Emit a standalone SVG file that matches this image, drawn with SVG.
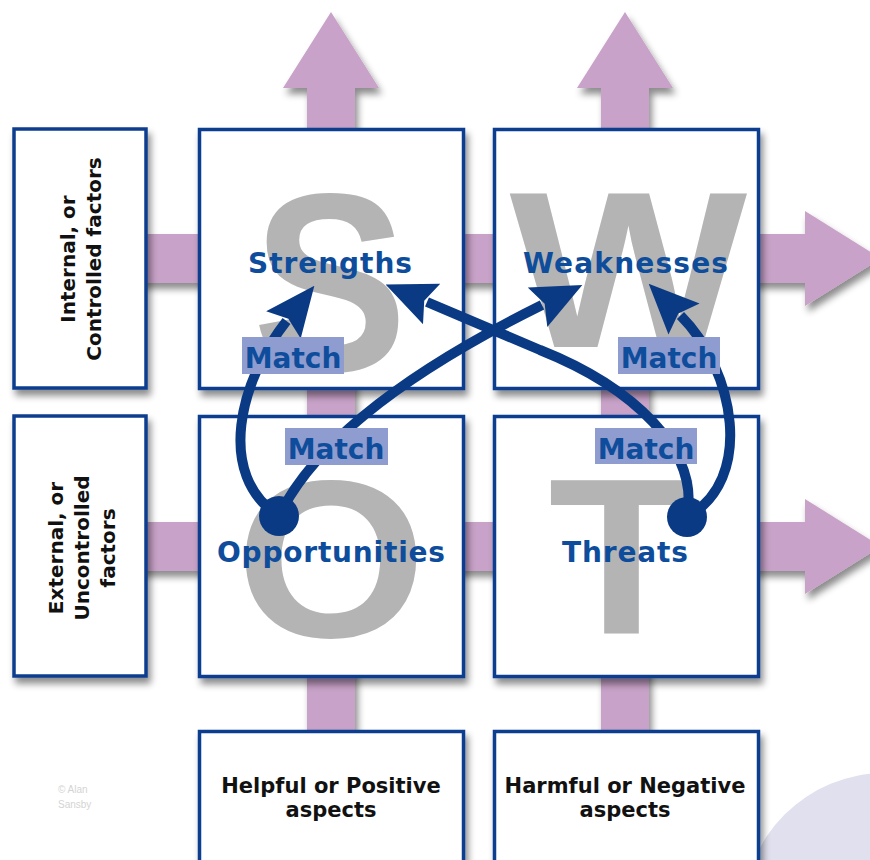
<svg xmlns="http://www.w3.org/2000/svg" width="870" height="860" viewBox="0 0 870 860">
<defs>
<style>
.box{fill:#ffffff;stroke:#0d3d8f;stroke-width:3.5}
.arrow{fill:#c8a2c8}
.big{font-family:"Liberation Sans",Arial,sans-serif;font-weight:bold;fill:#b4b4b4;text-anchor:middle}
.lbl{font-family:"DejaVu Sans",Verdana,sans-serif;font-weight:bold;font-size:28px;fill:#0e4c9c;text-anchor:middle}
.side{font-family:"DejaVu Sans",Verdana,sans-serif;font-weight:bold;font-size:20px;fill:#111111;text-anchor:middle}
.bot{font-family:"DejaVu Sans",Verdana,sans-serif;font-weight:bold;font-size:21px;fill:#111111;text-anchor:middle}
.conn{fill:none;stroke:#0b3a84;stroke-width:10;marker-end:url(#ah)}
.dot{fill:#0b3a84}
.mbg{fill:#8e9ccf}
.mtx{font-family:"DejaVu Sans",Verdana,sans-serif;font-weight:bold;font-size:28px;fill:#0e4c9c;text-anchor:middle}
.copy{font-family:"Liberation Sans",Arial,sans-serif;font-size:10px;fill:#d4d4d4}
</style>
<filter id="sh" x="-20%" y="-20%" width="140%" height="140%">
<feDropShadow dx="3" dy="6" stdDeviation="3.5" flood-color="#000000" flood-opacity="0.45"/>
</filter>
<marker id="ah" viewBox="0 0 50 44" refX="5" refY="22" markerWidth="50" markerHeight="44" markerUnits="userSpaceOnUse" orient="auto">
<path d="M0,0 L50,22 L0,44 L8,22 Z" fill="#0b3a84"/>
</marker>
</defs>

<circle id="bg-circle" cx="885" cy="915" r="142" fill="#e0e0ee"/>

<g id="axis-arrows">
<polygon class="arrow" filter="url(#sh)" points="307,800 307,88 283,88 331,12 379,88 355,88 355,800"/>
<polygon class="arrow" filter="url(#sh)" points="601,800 601,88 577,88 625,12 673,88 649,88 649,800"/>
<polygon class="arrow" filter="url(#sh)" points="100,234 805,234 805,211 881,258.5 805,306 805,283 100,283"/>
<polygon class="arrow" filter="url(#sh)" points="100,522 805,522 805,499 881,546.5 805,594 805,571 100,571"/>
</g>

<g id="internal-label">
<rect class="box" filter="url(#sh)" x="14" y="129" width="132" height="259"/>
<text class="side" transform="translate(80,259) rotate(-90)"><tspan x="0" y="-5">Internal, or</tspan><tspan x="0" y="21">Controlled factors</tspan></text>
</g>
<g id="external-label">
<rect class="box" filter="url(#sh)" x="14" y="416" width="132" height="260"/>
<text class="side" transform="translate(80,548) rotate(-90)"><tspan x="0" y="-17">External, or</tspan><tspan x="0" y="9">Uncontrolled</tspan><tspan x="0" y="35">factors</tspan></text>
</g>

<g id="strengths">
<rect class="box" filter="url(#sh)" x="199.5" y="129.5" width="264" height="259"/>
<text class="big" font-size="255" transform="translate(330,371) scale(0.91,1)">S</text>
<text class="lbl" x="330" y="273" textLength="164">Strengths</text>
</g>
<g id="weaknesses">
<rect class="box" filter="url(#sh)" x="494.5" y="129.5" width="264" height="259"/>
<text class="big" font-size="223" transform="translate(628.5,347) scale(1.13,1)">W</text>
<text class="lbl" x="625.5" y="273" textLength="205">Weaknesses</text>
</g>
<g id="opportunities">
<rect class="box" filter="url(#sh)" x="199.5" y="416.5" width="264" height="260"/>
<text class="big" font-size="225" transform="translate(331,637) scale(1.09,1)">O</text>
<text class="lbl" x="331" y="562" textLength="228">Opportunities</text>
</g>
<g id="threats">
<rect class="box" filter="url(#sh)" x="494.5" y="416.5" width="264" height="260"/>
<text class="big" font-size="222" transform="translate(621.5,634) scale(1.08,1)">T</text>
<text class="lbl" x="625" y="562" textLength="126">Threats</text>
</g>

<g id="helpful">
<rect class="box" filter="url(#sh)" x="199.5" y="731.5" width="264" height="160"/>
<text class="bot" x="331" y="793">Helpful or Positive</text>
<text class="bot" x="331" y="817">aspects</text>
</g>
<g id="harmful">
<rect class="box" filter="url(#sh)" x="494.5" y="731.5" width="264" height="160"/>
<text class="bot" x="625" y="793">Harmful or Negative</text>
<text class="bot" x="625" y="817">aspects</text>
</g>

<g id="connectors">
<path class="conn" d="M279,516 C215,475 240,380 286.5,321"/>
<path class="conn" d="M279,516 Q330,410 542,305"/>
<path class="conn" d="M687,517 C700,450 633,387 540,350 L427,302"/>
<path class="conn" d="M687,517 C755,480 735,370 680.5,315.5"/>
<circle class="dot" cx="279" cy="516" r="20"/>
<circle class="dot" cx="687" cy="517" r="20"/>
</g>

<g id="match-labels">
<g id="match-os"><rect class="mbg" x="242" y="337" width="102" height="37"/><text class="mtx" x="293" y="368">Match</text></g>
<g id="match-tw"><rect class="mbg" x="618" y="337" width="102" height="37"/><text class="mtx" x="669" y="368">Match</text></g>
<g id="match-ow"><rect class="mbg" x="285" y="428" width="103" height="37"/><text class="mtx" x="336" y="459">Match</text></g>
<g id="match-ts"><rect class="mbg" x="595" y="428" width="102" height="36"/><text class="mtx" x="646" y="459">Match</text></g>
</g>

<g id="copyright">
<text class="copy" x="58" y="793">© Alan</text>
<text class="copy" x="58" y="808">Sansby</text>
</g>
</svg>
